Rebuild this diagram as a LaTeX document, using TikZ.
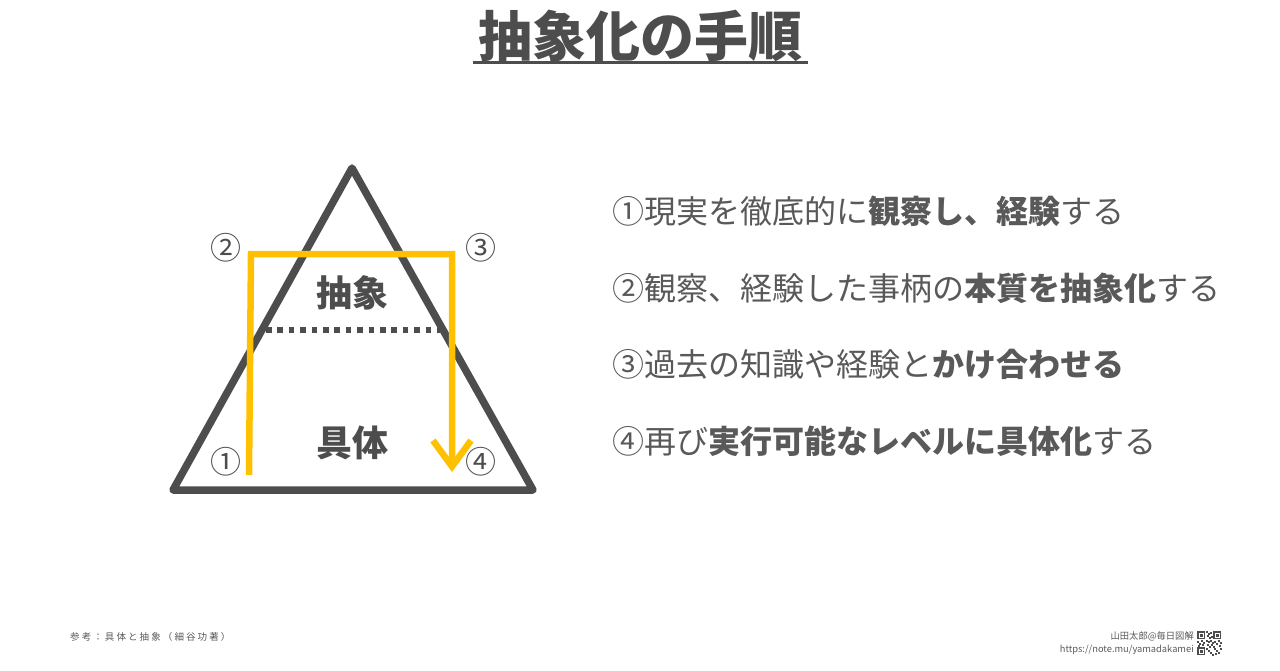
\documentclass[tikz,border=0pt]{standalone}
\usepackage{fontspec}
\setmainfont{Noto Sans CJK JP}
\usetikzlibrary{arrows.meta}
\definecolor{dk}{HTML}{4D4D4D}
\definecolor{tx}{HTML}{595959}
\definecolor{yl}{HTML}{FFC000}
\begin{document}
\begin{tikzpicture}[x=1pt,y=-1pt,
  tri/.style={draw=dk,line width=7.5pt,line join=round,line cap=round},
  flow/.style={draw=yl,line width=6.5pt,line join=miter},
  lvl/.style={font=\fontsize{36}{40}\selectfont\bfseries,text=dk},
  num/.style={font=\fontsize{31}{34}\selectfont,text=dk},
  item/.style={font=\fontsize{32}{37}\selectfont,text=tx,anchor=west,inner sep=0pt},
  foot/.style={font=\fontsize{9.3}{12}\selectfont,text=tx,inner sep=0pt}]
\useasboundingbox (0,0) rectangle (1280,670);
% title
\node[font=\fontsize{54}{58}\selectfont\bfseries,text=dk,inner sep=0pt] (title) at (640,36) {抽象化の手順};
\draw[dk,line width=3pt] (473,62) -- (808,62);
% triangle
\coordinate (apex) at (352,168);
\coordinate (bl) at (173,490);
\coordinate (br) at (533,490);
\draw[tri] (apex) -- (br) -- (bl) -- cycle;
% dotted separator
\coordinate (dl) at (266,330);
\coordinate (dr) at (440,330);
\draw[dk,line width=5.5pt,dash pattern=on 5.5pt off 5.9pt] (dl) -- (dr);
% yellow flow
\coordinate (s1) at (249,475);
\coordinate (c2) at (251,254);
\coordinate (c3) at (452,254);
\coordinate (e4) at (452,472);
\draw[flow,-{Straight Barb[length=26pt,width=38pt]}] (s1) -- (c2) -- (c3) -- (e4);
% labels
\node[lvl] (abs) at (352,293) {抽象};
\node[lvl] (con) at (352,443) {具体};
\node[num] (n2) at (226,248) {②};
\node[num] (n3) at (481,248) {③};
\node[num] (n1) at (226,462) {①};
\node[num] (n4) at (481,462) {④};
% list
\node[item] (l1) at (612,211) {①現実を徹底的に\textbf{観察し、経験}する};
\node[item] (l2) at (612,288) {②観察、経験した事柄の\textbf{本質を抽象化}する};
\node[item] (l3) at (612,364) {③過去の知識や経験と\textbf{かけ合わせる}};
\node[item] (l4) at (612,441) {④再び\textbf{実行可能なレベルに具体化}する};
% footer
\node[foot,anchor=west,font=\fontsize{9.5}{11}\selectfont\addfontfeatures{LetterSpace=22}] (ref) at (70,637) {参考：具体と抽象（細谷功著）};
\node[foot,anchor=east] (au) at (1194,636) {山田太郎@毎日図解};
\node[foot,anchor=east] (url) at (1194,650) {https://note.mu/yamadakamei};
% qr-like mark
\begin{scope}[shift={(1197,631)}]
\fill[dk] (0,0) rectangle (8,8); \fill[white] (1.5,1.5) rectangle (6.5,6.5); \fill[dk] (2.5,2.5) rectangle (5.5,5.5);
\fill[dk] (16,0) rectangle (24,8); \fill[white] (17.5,1.5) rectangle (22.5,6.5); \fill[dk] (18.5,2.5) rectangle (21.5,5.5);
\fill[dk] (0,16) rectangle (8,24); \fill[white] (1.5,17.5) rectangle (6.5,22.5); \fill[dk] (2.5,18.5) rectangle (5.5,21.5);
\foreach \a/\b in {9/0,11/2,13/1,10/4,12/6,14/5,9/9,11/10,13/9,15/11,0/10,2/12,4/9,6/11,17/10,19/12,21/9,23/11,10/13,12/15,14/13,9/17,11/19,13/21,15/23,17/17,19/19,21/21,23/17,18/22,22/14,16/15,1/14,5/13}
  \fill[dk] (\a,\b) rectangle ++(1.8,1.8);
\end{scope}
\end{tikzpicture}
\end{document}
